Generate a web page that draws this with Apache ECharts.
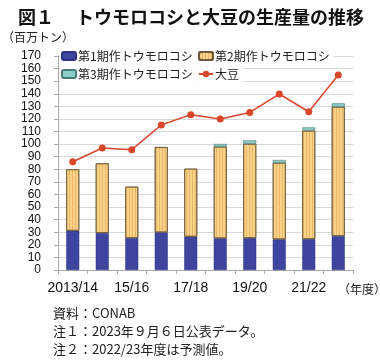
<!DOCTYPE html>
<html><head><meta charset="utf-8">
<script src="https://cdn.jsdelivr.net/npm/echarts@6/dist/echarts.min.js"></script>
<style>html,body{margin:0;padding:0;background:#fff}#c{width:380px;height:360px}</style>
</head><body><div id="c"></div>
<script>
const categories = ['2013/14','14/15','15/16','16/17','17/18','18/19','19/20','20/21','21/22','22/23'];
const firstCrop  = [31.2, 29.4, 25.4, 29.9, 26.5, 25.2, 25.4, 24.4, 24.6, 27.0];
const secondCrop = [48.8, 55.3, 40.8, 67.8, 54.0, 72.8, 74.9, 60.8, 86.1, 102.7];
const thirdCrop  = [null, null, null, null, null, 2.1, 2.7, 2.2, 2.6, 2.7];
const soybean    = [86.0, 96.9, 95.6, 115.2, 123.4, 119.9, 125.2, 139.8, 125.7, 154.9];
const yTicks = {min: 0, max: 170, interval: 10};
const names = ['第1期作トウモロコシ','第2期作トウモロコシ','第3期作トウモロコシ','大豆'];

const JP = '"Noto Sans CJK JP", sans-serif';
const chart = echarts.init(document.getElementById('c'), null, {renderer: 'canvas'});
function lg(name, left, top) {
  return {
    data: [name], left: left, top: top, orient: 'horizontal',
    itemWidth: 14, itemHeight: 8, itemGap: 2,
    backgroundColor: '#fff', padding: [3, 4, 3, 1],
    textStyle: {fontFamily: JP, fontSize: 12, color: '#222', padding: [0, 0, 0, -3]},
    selectedMode: false
  };
}
chart.setOption({
  animation: false,
  backgroundColor: '#fff',
  title: [
    {text: '図１　 トウモロコシと大豆の生産量の推移', left: 13, top: 3,
     textStyle: {fontFamily: JP, fontSize: 18, fontWeight: 'bold', color: '#111'}},
    {text: '（百万トン）', left: -3, top: 26,
     textStyle: {fontFamily: JP, fontSize: 12, fontWeight: 'normal', color: '#222'}}
  ],
  legend: [lg(names[0], 60, 47), lg(names[1], 197, 47), lg(names[2], 60, 65), lg(names[3], 197, 65)],
  grid: {left: 58, right: 27, top: 56, bottom: 90},
  xAxis: {
    type: 'category', data: categories,
    axisLine: {lineStyle: {color: '#aaa'}},
    axisTick: {show: true, length: 4, lineStyle: {color: '#aaa'}, interval: 0},
    axisLabel: {interval: 1, margin: 11, fontFamily: '"Liberation Sans", Arial, sans-serif', fontSize: 14, color: '#111'}
  },
  yAxis: {
    type: 'value', min: yTicks.min, max: yTicks.max, interval: yTicks.interval,
    axisLine: {show: true, lineStyle: {color: '#aaa'}},
    axisTick: {show: true, length: 4, lineStyle: {color: '#aaa'}},
    splitLine: {lineStyle: {color: '#d8d8d8'}},
    axisLabel: {margin: 17, fontFamily: '"Liberation Sans Narrow", "Liberation Sans", sans-serif', fontSize: 12, color: '#111',
      lineHeight: 12, showMinLabel: true, showMaxLabel: true, hideOverlap: false}
  },
  graphic: [
    {type: 'text', left: 338, top: 283, style: {text: '（年度）', fontFamily: JP, fontSize: 12, fill: '#222'}},
    {type: 'text', left: 53, top: 307, style: {text: '資料：CONAB', fontFamily: JP, fontSize: 13, fill: '#222'}},
    {type: 'text', left: 53, top: 325, style: {text: '注１：2023年９月６日公表データ。', fontFamily: JP, fontSize: 13, fill: '#222'}},
    {type: 'text', left: 53, top: 343, style: {text: '注２：2022/23年度は予測値。', fontFamily: JP, fontSize: 13, fill: '#222'}}
  ],
  series: [
    {name: names[0], type: 'bar', stack: 'corn', data: firstCrop, barWidth: 13,
     itemStyle: {color: '#3E459E', borderColor: '#2c3180', borderWidth: 0.5}},
    {name: names[1], type: 'bar', stack: 'corn', data: secondCrop, barWidth: 13,
     itemStyle: {color: '#F9D28A', borderColor: '#6b5a3a', borderWidth: 0.8,
       decal: {symbol: 'rect', symbolSize: 1, dashArrayX: [1, 2], dashArrayY: [4, 0], rotation: 0, color: 'rgba(225,160,70,0.55)'}}},
    {name: names[2], type: 'bar', stack: 'corn', data: thirdCrop, barWidth: 13,
     itemStyle: {color: '#8DD0CB', borderColor: '#4a7a76', borderWidth: 0.6}},
    {name: names[3], type: 'line', data: soybean, symbol: 'circle', symbolSize: 7,
     lineStyle: {color: '#D9472B', width: 1.5}, itemStyle: {color: '#D9472B'}, z: 5}
  ]
});
</script></body></html>
